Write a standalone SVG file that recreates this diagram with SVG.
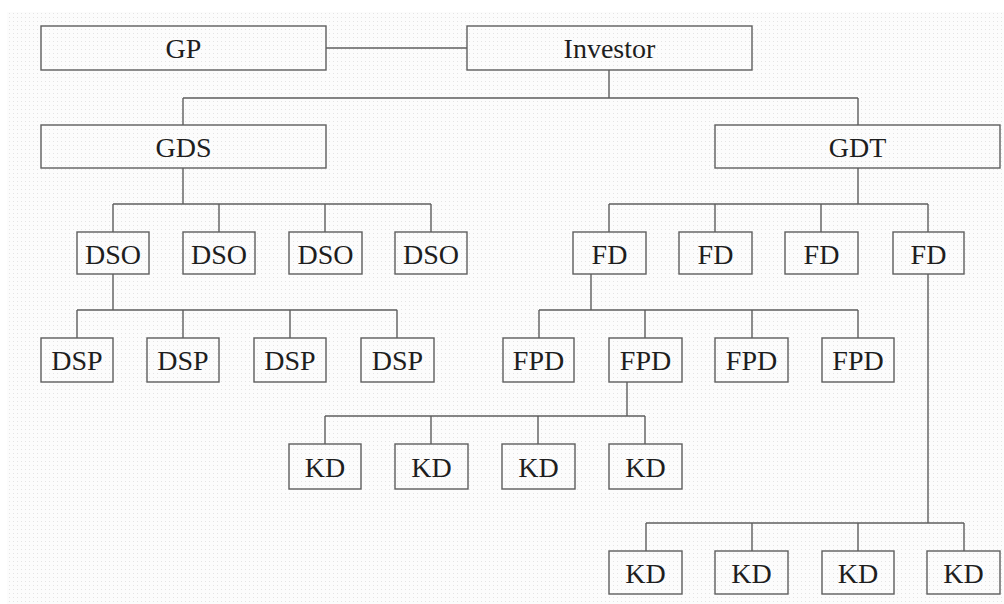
<svg xmlns="http://www.w3.org/2000/svg" width="1004" height="604" viewBox="0 0 1004 604">
<defs>
<pattern id="dots" width="4" height="4" patternUnits="userSpaceOnUse">
<rect width="4" height="4" fill="#fcfcfc"/>
<rect x="1" y="1" width="1" height="1" fill="#e4e4e4"/>
</pattern>
<style>
.b{fill:none;stroke:#5e5e5e;stroke-width:1.4}
.c{fill:none;stroke:#5e5e5e;stroke-width:1.4}
.t{font-family:"Liberation Serif","DejaVu Serif",serif;font-size:28px;fill:#1e1e1e;text-anchor:middle}
</style>
</defs>
<rect width="1004" height="604" fill="#ffffff"/>
<rect x="7" y="12" width="997" height="592" fill="url(#dots)"/>
<g id="connectors" class="c">
<path d="M326 48H467"/>
<path d="M609 70V98M183 98H858M183 98V125M858 98V125"/>
<path d="M183 168V204M113 204H431M113 204V232M219 204V232M325 204V232M431 204V232"/>
<path d="M113 274V310M77 310H397M77 310V338M183 310V338M290 310V338M397 310V338"/>
<path d="M858 168V204M609 204H928M609 204V232M715 204V232M821 204V232M928 204V232"/>
<path d="M591 274V310M539 310H858M539 310V338M645 310V338M752 310V338M858 310V338"/>
<path d="M627 382V416M325 416H645M325 416V444M431 416V444M538 416V444M645 416V444"/>
<path d="M928 274V523M646 523H964M646 523V551M752 523V551M858 523V551M964 523V551"/>
</g>
<g id="gp"><rect class="b" x="41" y="26" width="285" height="44"/><text class="t" x="183.5" y="58">GP</text></g>
<g id="investor"><rect class="b" x="467" y="26" width="285" height="44"/><text class="t" x="609.5" y="58">Investor</text></g>
<g id="gds"><rect class="b" x="41" y="125" width="285" height="43"/><text class="t" x="183.5" y="157">GDS</text></g>
<g id="gdt"><rect class="b" x="715" y="125" width="285" height="43"/><text class="t" x="857.5" y="157">GDT</text></g>
<g id="dso1"><rect class="b" x="77" y="232" width="72" height="42"/><text class="t" x="113" y="264">DSO</text></g>
<g id="dso2"><rect class="b" x="183" y="232" width="72" height="42"/><text class="t" x="219" y="264">DSO</text></g>
<g id="dso3"><rect class="b" x="289" y="232" width="73" height="42"/><text class="t" x="325.5" y="264">DSO</text></g>
<g id="dso4"><rect class="b" x="395" y="232" width="72" height="42"/><text class="t" x="431" y="264">DSO</text></g>
<g id="dsp1"><rect class="b" x="41" y="338" width="72" height="44"/><text class="t" x="77" y="370">DSP</text></g>
<g id="dsp2"><rect class="b" x="147" y="338" width="72" height="44"/><text class="t" x="183" y="370">DSP</text></g>
<g id="dsp3"><rect class="b" x="254" y="338" width="72" height="44"/><text class="t" x="290" y="370">DSP</text></g>
<g id="dsp4"><rect class="b" x="361" y="338" width="73" height="44"/><text class="t" x="397.5" y="370">DSP</text></g>
<g id="fd1"><rect class="b" x="573" y="232" width="73" height="42"/><text class="t" x="609.5" y="264">FD</text></g>
<g id="fd2"><rect class="b" x="679" y="232" width="73" height="42"/><text class="t" x="715.5" y="264">FD</text></g>
<g id="fd3"><rect class="b" x="785" y="232" width="73" height="42"/><text class="t" x="821.5" y="264">FD</text></g>
<g id="fd4"><rect class="b" x="893" y="232" width="71" height="42"/><text class="t" x="928.5" y="264">FD</text></g>
<g id="fpd1"><rect class="b" x="503" y="338" width="71" height="44"/><text class="t" x="538.5" y="370">FPD</text></g>
<g id="fpd2"><rect class="b" x="609" y="338" width="73" height="44"/><text class="t" x="645.5" y="370">FPD</text></g>
<g id="fpd3"><rect class="b" x="715" y="338" width="73" height="44"/><text class="t" x="751.5" y="370">FPD</text></g>
<g id="fpd4"><rect class="b" x="822" y="338" width="72" height="44"/><text class="t" x="858" y="370">FPD</text></g>
<g id="kd1"><rect class="b" x="289" y="444" width="72" height="45"/><text class="t" x="325" y="477">KD</text></g>
<g id="kd2"><rect class="b" x="395" y="444" width="73" height="45"/><text class="t" x="431.5" y="477">KD</text></g>
<g id="kd3"><rect class="b" x="502" y="444" width="73" height="45"/><text class="t" x="538.5" y="477">KD</text></g>
<g id="kd4"><rect class="b" x="609" y="444" width="73" height="45"/><text class="t" x="645.5" y="477">KD</text></g>
<g id="kd5"><rect class="b" x="609" y="551" width="73" height="43"/><text class="t" x="645.5" y="583">KD</text></g>
<g id="kd6"><rect class="b" x="715" y="551" width="73" height="43"/><text class="t" x="751.5" y="583">KD</text></g>
<g id="kd7"><rect class="b" x="822" y="551" width="72" height="43"/><text class="t" x="858" y="583">KD</text></g>
<g id="kd8"><rect class="b" x="927" y="551" width="73" height="43"/><text class="t" x="963.5" y="583">KD</text></g>
</svg>
